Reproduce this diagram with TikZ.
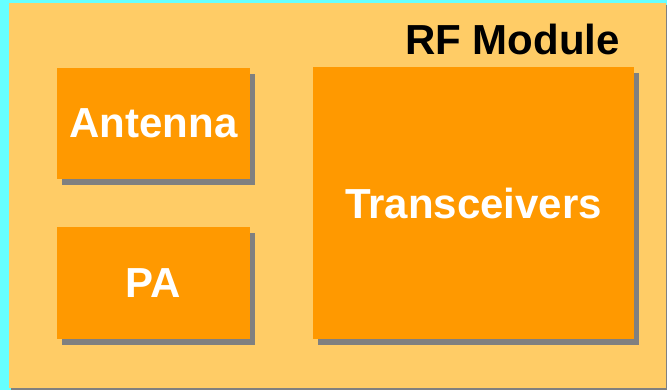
\documentclass[tikz,border=0pt]{standalone}
\usepackage{fontspec}
\setmainfont{Liberation Sans}
\usetikzlibrary{shadows}
\definecolor{modbg}{HTML}{FFCC66}
\definecolor{blockbg}{HTML}{FF9900}
\definecolor{edgecyan}{HTML}{66FFFF}
\definecolor{shadegray}{HTML}{808080}
\begin{document}
\begin{tikzpicture}[x=1pt,y=-1pt,
        block/.style = {rectangle,
            fill = blockbg,
            inner sep = 0pt,
            text = white,
            font = \bfseries\fontsize{42}{48}\selectfont,
            drop shadow = {shadow xshift = 5pt, shadow yshift = -6pt,
                fill = shadegray, opacity = 1},
            }]
    
    % Frame
    \useasboundingbox (0,0) rectangle (667,390);
    \fill[edgecyan] (0,0) rectangle (667,390);
    \fill[shadegray] (11,5) rectangle (667,390);
    \fill[modbg] (9,3) rectangle (666,388);
    
    % Title
    \node[anchor=base east,inner sep=0pt,
        font=\bfseries\fontsize{42}{48}\selectfont] (title) at (620,55) {RF Module};
    
    % Antenna
    \node[block,minimum width=193pt,minimum height=111pt] (ant) at (153.5,123.5) {Antenna};
    
    % PA
    \node[block,minimum width=193pt,minimum height=112pt] (pa) at (153.5,283) {PA};
    
    % Transceivers
    \node[block,minimum width=321pt,minimum height=272pt] (trx) at (473.5,203) {Transceivers};
    
    \end{tikzpicture}
\end{document}
